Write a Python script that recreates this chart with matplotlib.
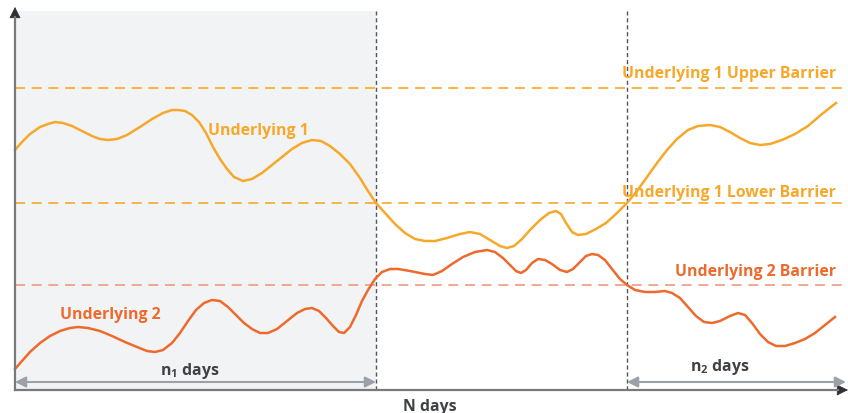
import numpy as np
import matplotlib.pyplot as plt
from matplotlib.patches import Rectangle

plt.rcParams['font.family'] = ['Open Sans', 'DejaVu Sans']
plt.rcParams['mathtext.fontset'] = 'custom'
plt.rcParams['mathtext.rm'] = 'Open Sans'
plt.rcParams['mathtext.bf'] = 'Open Sans:bold'

# day positions and levels
u1_days = [15, 22, 30, 40, 48, 55, 63, 72, 82, 92, 100, 108, 117, 127, 140, 152, 163, 172, 178,
           185, 192, 199, 206, 213, 220, 227, 234, 243, 252, 262, 272, 282, 292, 302, 312, 321,
           330, 340, 350, 360, 368, 376, 385, 395, 405, 415, 425, 435, 447, 460, 470, 480, 490,
           500, 507, 514, 522, 530, 540, 549, 556, 561, 566, 572, 578, 586, 596, 606, 616, 627,
           637, 647, 657, 667, 677, 688, 698, 710, 720, 730, 740, 750, 760, 770, 782, 795, 808,
           822, 836]
u1_level = [263, 271, 279, 286, 289, 291, 290, 287, 282, 277, 274, 273, 274, 278, 286, 294, 300,
            303, 303, 302, 298, 291, 280, 266, 254, 244, 236, 232, 234, 240, 248, 256, 264, 270,
            273, 272, 267, 259, 249, 235, 222, 210, 200, 189, 180, 174, 172, 172, 175, 179, 181,
            179, 173, 167, 165, 167, 174, 183, 193, 200, 202, 199, 190, 181, 178, 179, 184, 190,
            199, 210, 222, 236, 250, 263, 274, 283, 287, 288, 286, 281, 275, 270, 268, 269, 273,
            279, 287, 299, 310]

u2_days = [15, 22, 30, 40, 50, 60, 70, 78, 88, 100, 112, 125, 137, 147, 155, 163, 172, 180, 188,
           196, 204, 212, 220, 228, 236, 244, 252, 260, 268, 277, 287, 297, 305, 312, 319, 326,
           333, 339, 344, 350, 356, 362, 368, 375, 382, 390, 398, 410, 425, 433, 442, 452, 463,
           475, 487, 495, 503, 510, 516, 521, 526, 532, 538, 545, 552, 560, 567, 573, 580, 586,
           592, 598, 605, 612, 620, 627, 635, 645, 655, 665, 672, 680, 688, 696, 704, 712, 720,
           730, 738, 745, 752, 760, 768, 776, 785, 795, 805, 815, 825, 835]
u2_level = [44, 52, 61, 70, 77, 82, 85, 86, 85, 82, 77, 71, 66, 62, 61, 63, 70, 80, 92, 103, 110,
            113, 112, 106, 98, 90, 84, 80, 80, 84, 92, 100, 104, 105, 102, 95, 87, 81, 80, 86, 98,
            112, 123, 134, 141, 144, 144, 142, 139, 138, 142, 149, 156, 161, 163, 161, 155, 148,
            142, 140, 143, 150, 154, 153, 149, 143, 141, 144, 151, 157, 159, 158, 153, 144, 134,
            128, 123, 121, 121, 122, 120, 115, 106, 97, 91, 90, 92, 97, 100, 98, 90, 79, 71, 67,
            67, 70, 74, 80, 88, 96]

upper_barrier_1 = 325
lower_barrier_1 = 210
barrier_2 = 128
start_day, n1_end, n2_start, end_day = 15, 376, 627, 846

yellow = '#F7A82A'
orange = '#EE6A2C'
salmon = '#F09A80'
grey_txt = '#3F4145'

fig = plt.figure(figsize=(8.48, 4.14), dpi=100)
ax = fig.add_axes([0, 0, 1, 1])
ax.set_xlim(0, 848)
ax.set_ylim(0, 414)
ax.axis('off')

bottom, top = 23, 402

# shaded observation window
ax.add_patch(Rectangle((start_day, bottom), n1_end - start_day, top - bottom,
                       facecolor='#F2F3F5', edgecolor='none', zorder=0))

# barriers
ax.axhline(upper_barrier_1, xmin=start_day / 848, color=yellow, lw=1.2, ls=(0, (6, 4)), zorder=1)
ax.axhline(lower_barrier_1, xmin=start_day / 848, color=yellow, lw=1.2, ls=(0, (6, 4)), zorder=1)
ax.axhline(barrier_2, xmin=start_day / 848, color=salmon, lw=1.2, ls=(0, (6, 4)), zorder=1)

# period separators
for d in [n1_end, n2_start]:
    ax.plot([d, d], [bottom, top], color='#555555', lw=1, ls=(0, (3, 2)), zorder=2)

# paths
ax.plot(u1_days, u1_level, color=yellow, lw=1.8, solid_joinstyle='round', zorder=3)
ax.plot(u2_days, u2_level, color=orange, lw=1.8, solid_joinstyle='round', zorder=3)

# axes with arrows
ax.plot([start_day, start_day], [bottom, 396], color='#7A7A7A', lw=1.6, zorder=4)
ax.plot([start_day, 838], [bottom, bottom], color='#7A7A7A', lw=1.6, zorder=4)
ax.annotate('', xy=(start_day, 406), xytext=(start_day, 394),
            arrowprops=dict(arrowstyle='-|>', color='#2F3035', lw=0.5, mutation_scale=18, shrinkA=0, shrinkB=0))
ax.annotate('', xy=(848, bottom), xytext=(836, bottom),
            arrowprops=dict(arrowstyle='-|>', color='#2F3035', lw=0.5, mutation_scale=18, shrinkA=0, shrinkB=0))

# period arrows
ax.annotate('', xy=(start_day, 31), xytext=(n1_end, 31),
            arrowprops=dict(arrowstyle='<|-|>', color='#9BA1A9', lw=1.5, mutation_scale=16, shrinkA=0, shrinkB=0))
ax.annotate('', xy=(n2_start, 31), xytext=(end_day, 31),
            arrowprops=dict(arrowstyle='<|-|>', color='#9BA1A9', lw=1.5, mutation_scale=16, shrinkA=0, shrinkB=0))

# labels
kw = dict(fontsize=11.4, fontweight='bold')
ax.text(258, 283, 'Underlying 1', color=yellow, ha='center', va='center', **kw)
ax.text(110, 99, 'Underlying 2', color=orange, ha='center', va='center', **kw)
ax.text(836, 340, 'Underlying 1 Upper Barrier', color=yellow, ha='right', va='center', **kw)
ax.text(836, 221, 'Underlying 1 Lower Barrier', color=yellow, ha='right', va='center', **kw)
ax.text(836, 142, 'Underlying 2 Barrier', color=orange, ha='right', va='center', **kw)
ax.text(190, 43, r'n$_{\mathbf{1}}$ days', color=grey_txt, ha='center', va='center', **kw)
ax.text(720, 47, r'n$_{\mathbf{2}}$ days', color=grey_txt, ha='center', va='center', **kw)
ax.text(430, 15, 'N days', color=grey_txt, ha='center', va='top', **kw)

fig.savefig('out.png', dpi=100)
